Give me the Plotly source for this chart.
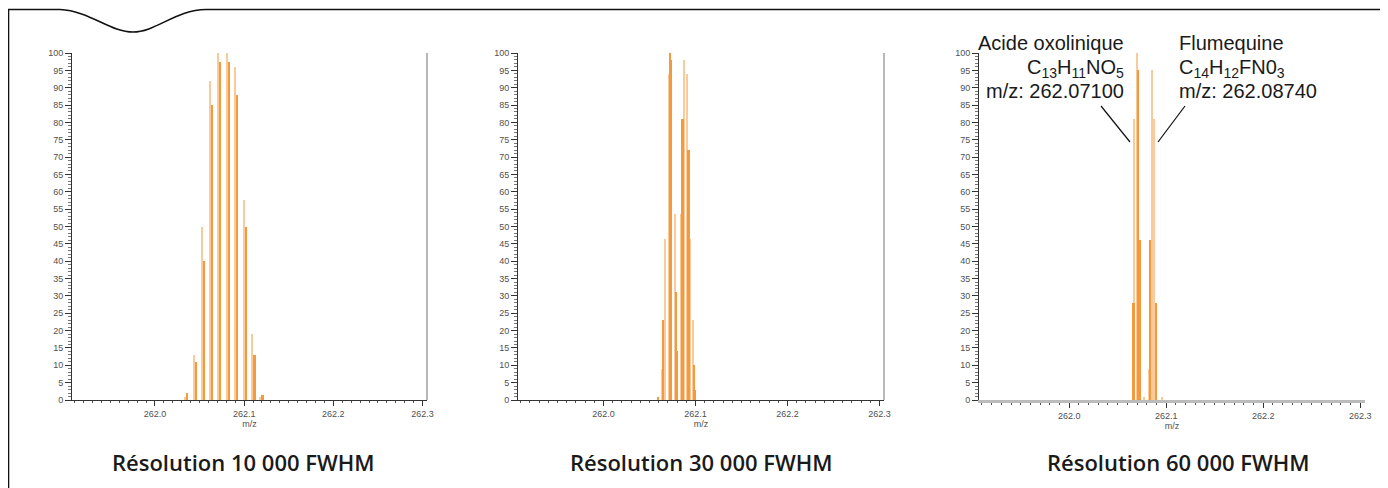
import plotly.graph_objects as go

W, H = 1388, 488
OFF = 8  # page body margin offset of the rendered figure

# ---------------- data ----------------
titles = ["Résolution 10 000 FWHM", "Résolution 30 000 FWHM", "Résolution 60 000 FWHM"]
x_ticks = [262.0, 262.1, 262.2, 262.3]
x_tick_labels = ["262.0", "262.1", "262.2", "262.3"]
y_ticks = list(range(0, 101, 5))

# Panel 1 (10 000 FWHM)
p1_dark_mz = [262.0360, 262.0461, 262.0551, 262.0640, 262.0730, 262.0831, 262.0921, 262.1022, 262.1112, 262.1202]
p1_dark_int = [2, 11, 40, 85, 97.5, 97.5, 88, 50, 13, 1.5]
p1_light_mz = [262.0333, 262.0434, 262.0524, 262.0613, 262.0703, 262.0804, 262.0894, 262.0995, 262.1085, 262.1175]
p1_light_int = [1, 13, 50, 92, 100, 100, 96, 57.6, 19, 1]

# Panel 2 (30 000 FWHM)
p2_dark_mz = [262.0592, 262.0651, 262.0727, 262.0738, 262.0788, 262.0804, 262.0862, 262.0927, 262.0985, 262.1000]
p2_dark_int = [1, 23, 100, 98, 31, 14, 81, 72, 10, 3]
p2_light_mz = [262.0636, 262.0665, 262.0716, 262.0774, 262.0847, 262.0876, 262.0913, 262.0941, 262.0971]
p2_light_int = [9, 46.5, 94, 53.5, 53.5, 98, 94, 46.5, 23]

# Panel 3 (60 000 FWHM)
p3_dark_mz = [262.0665, 262.0712, 262.0733, 262.0836, 262.0894]
p3_dark_int = [28, 95, 46, 46, 28]
p3_light_mz = [262.0655, 262.0671, 262.0699, 262.0774, 262.0825, 262.0850, 262.0877, 262.0953]
p3_light_int = [4.8, 81, 100, 1, 9, 95, 81, 1]

compounds = [
    ("Acide oxolinique", "C<sub>13</sub>H<sub>11</sub>NO<sub>5</sub>", "m/z: 262.07100"),
    ("Flumequine", "C<sub>14</sub>H<sub>12</sub>FN0<sub>3</sub>", "m/z: 262.08740"),
]

# ---------------- style ----------------
DARK = "#F39A3E"
LIGHT = "#F9CA9C"
x_range = [261.907, 262.305]
domains = [(72, 427), (518, 884), (979, 1365)]
bar_w = [(0.0031, 0.0025), (0.0018, 0.0011), (0.0017, 0.0011)]

def px(x):
    return (x - OFF) / W

def py(y):
    return 1 - (y - OFF) / H

y_dom = [py(400), py(53)]

panels = [
    (p1_dark_mz, p1_dark_int, p1_light_mz, p1_light_int),
    (p2_dark_mz, p2_dark_int, p2_light_mz, p2_light_int),
    (p3_dark_mz, p3_dark_int, p3_light_mz, p3_light_int),
]

fig = go.Figure()
for i, (dm, di, lm, li) in enumerate(panels):
    sfx = "" if i == 0 else str(i + 1)
    fig.add_trace(go.Bar(x=lm, y=li, width=bar_w[i][1], marker=dict(color=LIGHT, line=dict(width=0)),
                         xaxis="x" + sfx, yaxis="y" + sfx, showlegend=False))
    fig.add_trace(go.Bar(x=dm, y=di, width=bar_w[i][0], marker=dict(color=DARK, line=dict(width=0)),
                         xaxis="x" + sfx, yaxis="y" + sfx, showlegend=False))

tickfont = dict(family="Liberation Sans, Arial, sans-serif", size=9, color="#505050")
layout = dict(template="none", width=W, height=H, margin=dict(l=0, r=0, t=0, b=0, pad=0),
              autosize=False,
              paper_bgcolor="white", plot_bgcolor="white", barmode="overlay", bargap=0)

for i, (a, b) in enumerate(domains):
    sfx = "" if i == 0 else str(i + 1)
    axis_color = "#333" if i < 2 else "#bbb"
    layout["xaxis" + sfx] = dict(
        domain=[px(a), px(b)], range=x_range, anchor="y" + sfx, automargin=False,
        tickmode="array", tickvals=x_ticks, ticktext=x_tick_labels,
        ticks="outside", ticklen=5, tickcolor="#333", tickwidth=1,
        minor=dict(dtick=0.01, ticks="outside", ticklen=2, tickcolor="#555", tick0=262.0),
        showline=True, linecolor=axis_color, linewidth=1 if i < 2 else 3,
        showgrid=False, zeroline=False, tickfont=tickfont,
        title=dict(text="m/z", font=tickfont, standoff=0),
        fixedrange=True,
    )
    layout["yaxis" + sfx] = dict(
        domain=y_dom, range=[0, 100], anchor="x" + sfx, automargin=False,
        tickmode="array", tickvals=y_ticks, ticktext=[str(v) for v in y_ticks],
        ticks="outside", ticklen=6, tickcolor="#333", tickwidth=1,
        minor=dict(dtick=1, ticks="outside", ticklen=3, tickcolor="#777"),
        showline=True, linecolor="#333", linewidth=1,
        showgrid=False, zeroline=False, tickfont=tickfont, fixedrange=True,
    )

shapes = []
# outer frame with wave
frame = (f"M {px(8.5)},{py(500)} L {px(8.5)},{py(9.5)} L {px(60)},{py(9.5)} "
         f"C {px(90)},{py(11)} {px(110)},{py(32)} {px(133)},{py(32)} "
         f"C {px(156)},{py(32)} {px(176)},{py(9.5)} {px(206)},{py(9.5)} L {px(1400)},{py(9.5)}")
shapes.append(dict(type="path", path=frame, xref="paper", yref="paper",
                   line=dict(color="#111", width=1.6)))
# right borders of panels 1 and 2
for sfx in ["", "2"]:
    shapes.append(dict(type="line", xref="x" + sfx + " domain", yref="y" + sfx + " domain",
                       x0=1, x1=1, y0=0, y1=1, line=dict(color="#888", width=1.2)))
# leader lines in panel 3
shapes.append(dict(type="line", xref="paper", yref="paper", x0=px(1101), y0=py(106), x1=px(1130), y1=py(142),
                   line=dict(color="#111", width=1.2)))
shapes.append(dict(type="line", xref="paper", yref="paper", x0=px(1185), y0=py(106), x1=px(1158), y1=py(142),
                   line=dict(color="#111", width=1.2)))
layout["shapes"] = shapes

annotations = []
title_x = [243, 701, 1178]
for t, xc in zip(titles, title_x):
    annotations.append(dict(text=t, x=px(xc), y=py(462), xref="paper", yref="paper",
                            xanchor="center", yanchor="middle", showarrow=False,
                            font=dict(family="Open Sans, Roboto, Liberation Sans, Arial", size=22,
                                      color="#1a1a1a", weight=600)))
label_font = dict(family="Liberation Sans, Arial, sans-serif", size=20, color="#1a1a1a")
line_y = [43, 68, 91]
for (name, formula, mz), (xa, anchor) in zip(compounds, [(1126, "right"), (1177, "left")]):
    for txt, yy in zip([name, formula, mz], line_y):
        annotations.append(dict(text=txt, x=px(xa), y=py(yy), xref="paper", yref="paper",
                                xanchor=anchor, yanchor="middle", showarrow=False, font=label_font))
layout["annotations"] = annotations

fig.update_layout(**layout)
fig.write_html("out.html")
